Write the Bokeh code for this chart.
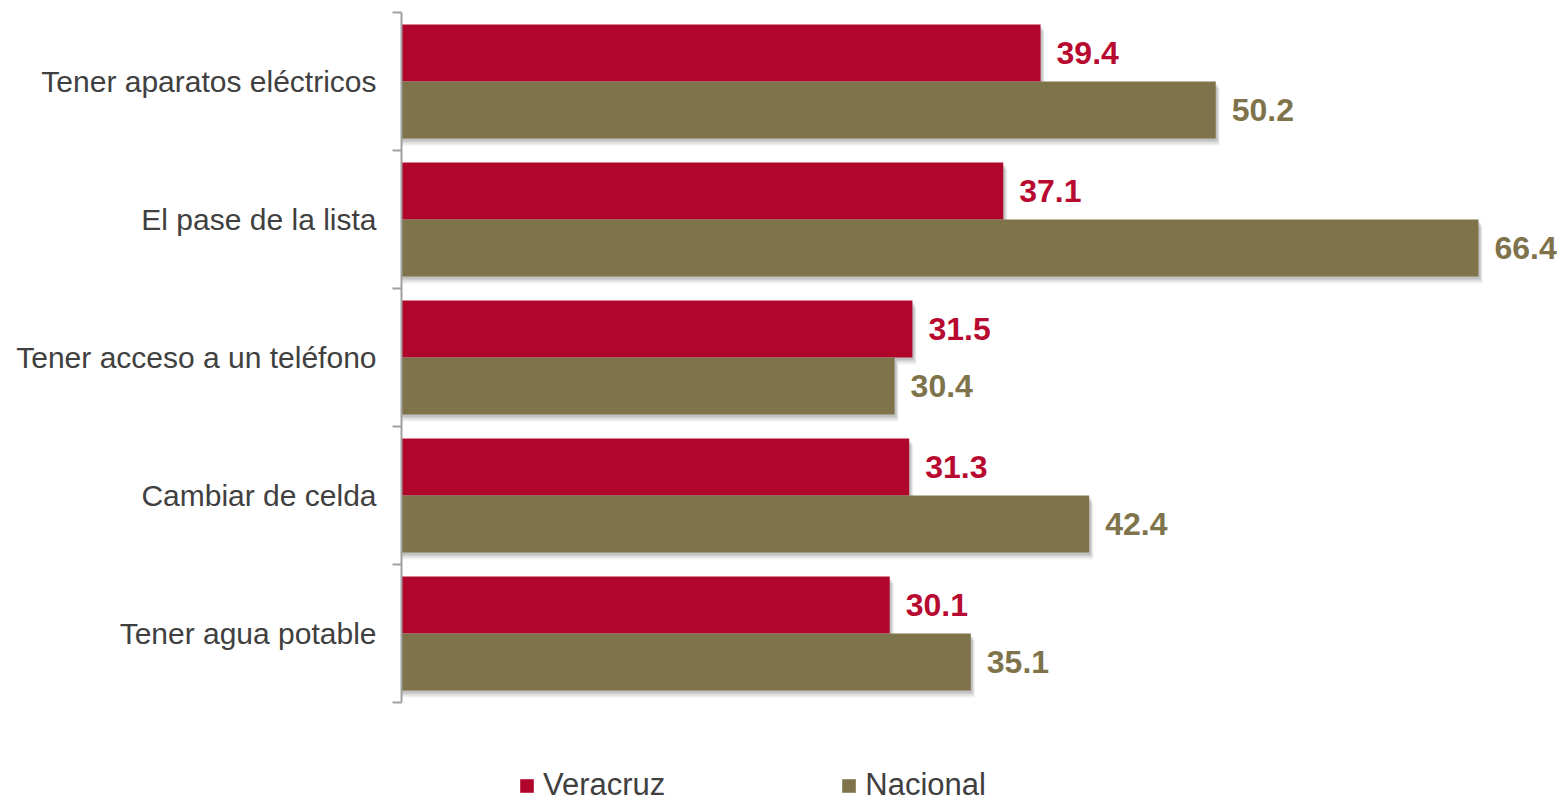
from bokeh.plotting import figure
from bokeh.models import ColumnDataSource, Range1d, FixedTicker, Legend, LegendItem
from bokeh.core.properties import value
from bokeh.embed import file_html
from bokeh.resources import INLINE

# ---- data ----
categories = ["Tener aparatos eléctricos", "El pase de la lista", "Tener acceso a un teléfono",
              "Cambiar de celda", "Tener agua potable"]
veracruz = [39.4, 37.1, 31.5, 31.3, 30.1]
nacional = [50.2, 66.4, 30.4, 42.4, 35.1]
series_names = ["Veracruz", "Nacional"]

# ---- style / layout ----
RED = "#B1062C"
OLIVE = "#7E734A"
TXT = "#404040"
FONT = "Liberation Sans"
W, H = 1562, 803
LEFT = 401            # frame left in figure px
BAND = 138.0          # px per category band
PX_PER_UNIT = 16.22   # px per data unit along x
TOP_PAD = 12          # px from figure top to first band
BAR_H = 57.0 / BAND
OFF = 0.2065

n = len(categories)
centers = [n - 0.5 - i for i in range(n)]
y_ver = [c + OFF for c in centers]
y_nac = [c - OFF for c in centers]

frame_w = W - LEFT
y_top = n + TOP_PAD / BAND
y_bot = y_top - H / BAND

p = figure(width=W, height=H, output_backend="svg", toolbar_location=None,
           x_range=Range1d(0, frame_w / PX_PER_UNIT), y_range=Range1d(y_bot, y_top),
           min_border_left=LEFT, min_border_right=0, min_border_top=0, min_border_bottom=0)
p.outline_line_color = None
p.xgrid.visible = False
p.ygrid.visible = False
p.xaxis.visible = False

src_v = ColumnDataSource(dict(y=y_ver, v=veracruz, lab=[f"{x:.1f}" for x in veracruz]))
src_n = ColumnDataSource(dict(y=y_nac, v=nacional, lab=[f"{x:.1f}" for x in nacional]))

# soft shadows (layered, offset down/right)
for dy, dx, a in [(7, 4, 0.06), (5, 3, 0.08), (3, 2, 0.12)]:
    for ys, vals in ((y_nac, nacional), (y_ver, veracruz)):
        sh = ColumnDataSource(dict(y=[yy - dy / BAND for yy in ys],
                                   r=[v + dx / PX_PER_UNIT for v in vals]))
        p.hbar(y="y", right="r", left=0, height=BAR_H, source=sh,
               fill_color="#000000", fill_alpha=a, line_color=None)

r_v = p.hbar(y="y", right="v", left=0, height=BAR_H, source=src_v,
             fill_color=RED, line_color=None)
r_n = p.hbar(y="y", right="v", left=0, height=BAR_H, source=src_n,
             fill_color=OLIVE, line_color=None)

p.text(x="v", y="y", text="lab", source=src_v, x_offset=16, text_baseline="middle",
       text_color="#B80A30", text_font_size="32px", text_font_style="bold",
       text_font=value(FONT))
p.text(x="v", y="y", text="lab", source=src_n, x_offset=16, text_baseline="middle",
       text_color=OLIVE, text_font_size="32px", text_font_style="bold",
       text_font=value(FONT))

# y axis: labels at band centers, tick marks at band boundaries
ax = p.yaxis[0]
ax.ticker = FixedTicker(ticks=centers, minor_ticks=[float(i) for i in range(n + 1)])
ax.major_label_overrides = {c: name for c, name in zip(centers, categories)}
ax.bounds = (0, n)
ax.axis_line_color = "#A0A0A0"
ax.axis_line_width = 2
ax.major_tick_line_color = None
ax.major_tick_out = 0
ax.major_tick_in = 0
ax.minor_tick_line_color = "#A0A0A0"
ax.minor_tick_line_width = 2
ax.minor_tick_out = 9
ax.minor_tick_in = 0
ax.major_label_standoff = 16
ax.major_label_text_font = FONT
ax.major_label_text_font_size = "30px"
ax.major_label_text_color = TXT

legend = Legend(items=[LegendItem(label=series_names[0], renderers=[r_v]),
                       LegendItem(label=series_names[1], renderers=[r_n])],
                orientation="horizontal", location=(117, 0), padding=0, margin=0,
                spacing=175, glyph_width=17, glyph_height=17, label_standoff=8,
                label_text_font=FONT, label_text_font_size="31px", label_text_color=TXT,
                border_line_alpha=0, background_fill_alpha=0)
p.add_layout(legend, "center")

open("out.html", "w").write(file_html(p, INLINE))
